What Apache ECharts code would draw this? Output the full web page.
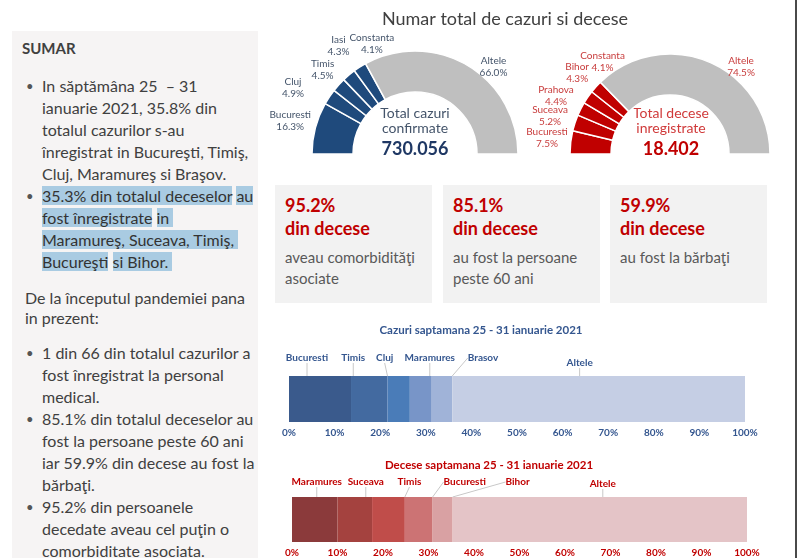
<!DOCTYPE html>
<html>
<head>
<meta charset="utf-8">
<script src="https://cdn.jsdelivr.net/npm/echarts@6/dist/echarts.min.js"></script>
<style>
    html, body { margin: 0; padding: 0; width: 800px; height: 558px; overflow: hidden; background: #fff; }
    body { font-family: Lato, 'Open Sans', sans-serif; color: #404040; }
    #chart { position: absolute; left: 0; top: 0; width: 800px; height: 558px; }
    .panel { position: absolute; left: 12px; top: 31px; width: 246px; height: 540px; background: #f6f4f4; }
    .panel .blk { position: absolute; left: 0; white-space: nowrap; font-size: 16px; }
    .sumar { top: 8px; left: 10px !important; font-size: 15px !important; font-weight: bold; line-height: 18px; }
    .bl { position: relative; padding-left: 30px; line-height: 22px; }
    .bl:before { content: '\2022'; position: absolute; left: 14px; top: 0; font-size: 13px; color: #555; }
    .para { padding-left: 13px; line-height: 20px; }
    .hl { background: #a9cbe2; color: #333; }
    .box { position: absolute; top: 185px; width: 157px; height: 118px; background: #f2f2f2; }
    .box div { position: absolute; left: 10px; white-space: nowrap; }
    .box .v { top: 9px; font-size: 18px; line-height: 22px; font-weight: bold; color: #c00000; }
    .box .d { top: 32px; font-size: 18px; line-height: 22px; font-weight: bold; color: #c00000; }
    .box .t { top: 62px; font-size: 15px; line-height: 21px; color: #595959; }
    .edge { position: absolute; left: 795px; top: 0; width: 2px; height: 558px; background: #4a4a4a; }
</style>
</head>
<body>
<div class="panel">
    <div class="blk sumar">SUMAR</div>
    <div class="blk" style="top:44px">
        <div class="bl">In săptămâna 25&nbsp; – 31<br>ianuarie 2021, 35.8% din<br>totalul cazurilor s-au<br>înregistrat in Bucureşti, Timiş,<br>Cluj, Maramureş si Braşov.</div>
        <div class="bl"><span class="hl">35.3% din totalul deceselor</span> <span class="hl">au</span><br><span class="hl">fost înregistrate</span> <span class="hl">in&nbsp;</span><br><span class="hl">Maramureş, Suceava, Timiş,</span><span class="hl">&nbsp;</span><br><span class="hl">Bucureşti</span> <span class="hl">si Bihor.</span><span class="hl">&nbsp;</span></div>
    </div>
    <div class="blk" style="top:257px">
        <div class="para">De la începutul pandemiei pana<br>in prezent:</div>
    </div>
    <div class="blk" style="top:311px">
        <div class="bl">1 din 66 din totalul cazurilor a<br>fost înregistrat la personal<br>medical.</div>
        <div class="bl">85.1% din totalul deceselor au<br>fost la persoane peste 60 ani<br>iar 59.9% din decese au fost la<br>bărbaţi.</div>
        <div class="bl">95.2% din persoanele<br>decedate aveau cel puţin o<br>comorbiditate asociata.</div>
    </div>
</div>
<div id="boxes"></div>
<div id="chart"></div>
<div class="edge"></div>
<script>
// Numar total de cazuri (pe judete)
var caseRegions = ['Bucuresti', 'Cluj', 'Timis', 'Iasi', 'Constanta', 'Altele'];
var caseShares = [16.3, 4.9, 4.5, 4.3, 4.1, 66.0];
var totalCases = '730.056';

// Numar total de decese (pe judete)
var deathRegions = ['Bucuresti', 'Suceava', 'Prahova', 'Bihor', 'Constanta', 'Altele'];
var deathShares = [7.5, 5.2, 4.4, 4.3, 4.1, 74.5];
var totalDeaths = '18.402';

// Saptamana 25 - 31 ianuarie 2021
var weekCaseRegions = ['Bucuresti', 'Timis', 'Cluj', 'Maramures', 'Brasov', 'Altele'];
var weekCaseShares = [13.6, 8.0, 4.9, 4.8, 4.5, 64.2];
var weekDeathRegions = ['Maramures', 'Suceava', 'Timis', 'Bucuresti', 'Bihor', 'Altele'];
var weekDeathShares = [10.0, 7.6, 7.2, 6.1, 4.4, 64.7];

// Casete cu procente
var statValues = ['95.2%', '85.1%', '59.9%'];
var statLabel = 'din decese';
var statTexts = [['aveau comorbidităţi', 'asociate'], ['au fost la persoane', 'peste 60 ani'], ['au fost la bărbaţi']];

var FONT = 'Lato, "Open Sans", sans-serif';

// casetele
var boxLeft = [275, 443, 610];
var html = '';
for (var i = 0; i < statValues.length; i++) {
    html += '<div class="box" style="left:' + boxLeft[i] + 'px">' +
        '<div class="v">' + statValues[i] + '</div>' +
        '<div class="d">' + statLabel + '</div>' +
        '<div class="t">' + statTexts[i].join('<br>') + '</div></div>';
}
document.getElementById('boxes').innerHTML = html;

// eticheta: [distanta de la arc, deplasare orizontala]
var caseLabelPos = [[27, 1], [16, -23], [23, 1], [38, 14], [28, 27], [-2, 27]];
var deathLabelPos = [[40, 16], [22, -4], [30, 2], [42, 24], [37, 34], [-5, 34]];

// semicerc
function halfDonut(names, shares, color, labelColor, cx, radius, pos) {
    return {
        type: 'pie',
        center: [cx, 154],
        radius: radius,
        startAngle: 180,
        endAngle: 0,
        avoidLabelOverlap: false,
        silent: true,
        animation: false,
        itemStyle: { borderColor: '#fff', borderWidth: 1.5 },
        label: {
            position: 'outside',
            color: labelColor,
            fontSize: 10,
            lineHeight: 12,
            fontFamily: FONT,
            distanceToLabelLine: 0,
            formatter: function (p) {
                return p.name + '\n' + p.value.toFixed(1) + '%';
            },
        },
        labelLine: { show: false, length: 20, length2: 0 },
        labelLayout: { align: 'center', hideOverlap: false },
        data: names.map(function (n, i) {
            var dx = pos[i][1];
            return {
                name: n,
                value: shares[i],
                itemStyle: { color: i === names.length - 1 ? '#bfbfbf' : color },
                labelLine: { length: pos[i][0] },
                label: { padding: [0, Math.max(0, -2 * dx), 0, Math.max(0, 2 * dx)] },
            };
        }),
    };
}

// bara stivuita
function weekBars(names, shares, colors, stack, idx, labelColor, shifts) {
    return names.map(function (n, i) {
        return {
            type: 'bar',
            name: n,
            stack: stack,
            xAxisIndex: idx,
            yAxisIndex: idx,
            barWidth: '100%',
            silent: true,
            animation: false,
            itemStyle: { color: colors[i] },
            label: {
                show: true,
                position: 'top',
                distance: 4,
                formatter: '{a}',
                color: labelColor,
                fontSize: 10,
                fontWeight: 'bold',
                fontFamily: FONT,
            },
            labelLayout: { dx: shifts[i][0], dy: shifts[i][1] },
            labelLine: { show: true, lineStyle: { color: '#c8c8c8', width: 1 } },
            data: [shares[i]],
        };
    });
}

function pctAxis(idx, color) {
    return {
        gridIndex: idx,
        type: 'value',
        min: 0,
        max: 100,
        interval: 10,
        axisLabel: {
            formatter: '{value}%',
            color: color,
            fontSize: 10,
            fontWeight: 'bold',
            fontFamily: FONT,
            margin: 6,
        },
        axisLine: { show: false },
        axisTick: { show: false },
        splitLine: { show: false },
    };
}

var blueCol = '#34568f';
var redCol = '#c00000';
var caseColors = ['#3a5a8c', '#436aa0', '#4a7cb8', '#7895c8', '#a0b3d8', '#c5cee4'];
var deathColors = ['#8b3a3b', '#a4423f', '#c04d4a', '#cc7374', '#d9a1a3', '#e4c4c7'];

var chart = echarts.init(document.getElementById('chart'));
chart.setOption({
    backgroundColor: 'transparent',
    animation: false,
    textStyle: { fontFamily: FONT },
    grid: [
        { left: 289, top: 376, width: 456, height: 46 },
        { left: 292, top: 497, width: 455, height: 46 },
    ],
    xAxis: [pctAxis(0, blueCol), pctAxis(1, redCol)],
    yAxis: [
        { gridIndex: 0, type: 'category', data: ['cazuri'], show: false },
        { gridIndex: 1, type: 'category', data: ['decese'], show: false },
    ],
    graphic: [
        { type: 'text', x: 505, y: 19, style: { text: 'Numar total de cazuri si decese', fill: '#404040', font: '18px ' + FONT, textAlign: 'center', textVerticalAlign: 'middle' } },
        { type: 'text', x: 415, y: 121, style: { text: 'Total cazuri\nconfirmate', fill: '#44546a', font: '14px ' + FONT, lineHeight: 15, textAlign: 'center', textVerticalAlign: 'middle' } },
        { type: 'text', x: 415, y: 149, style: { text: totalCases, fill: '#1f3864', font: 'bold 18px ' + FONT, textAlign: 'center', textVerticalAlign: 'middle' } },
        { type: 'text', x: 671, y: 121, style: { text: 'Total decese\ninregistrate', fill: '#d03a3a', font: '14px ' + FONT, lineHeight: 15, textAlign: 'center', textVerticalAlign: 'middle' } },
        { type: 'text', x: 671, y: 149, style: { text: totalDeaths, fill: '#c00000', font: 'bold 18px ' + FONT, textAlign: 'center', textVerticalAlign: 'middle' } },
        { type: 'text', x: 481, y: 330, style: { text: 'Cazuri saptamana 25 - 31 ianuarie 2021', fill: blueCol, font: 'bold 11.5px ' + FONT, textAlign: 'center', textVerticalAlign: 'middle' } },
        { type: 'text', x: 489, y: 465, style: { text: 'Decese saptamana 25 - 31 ianuarie 2021', fill: redCol, font: 'bold 11.5px ' + FONT, textAlign: 'center', textVerticalAlign: 'middle' } },
    ],
    series: [
        halfDonut(caseRegions, caseShares, '#1f4a7c', '#44546a', 415, [62, 103], caseLabelPos),
        halfDonut(deathRegions, deathShares, '#c00000', '#c83c3c', 670, [59, 100], deathLabelPos),
    ]
        .concat(weekBars(weekCaseRegions, weekCaseShares, caseColors, 'c', 0, blueCol,
            [[-13, -9], [-16, -9], [-14, -9], [9, -9], [41, -9], [-19, -4]]))
        .concat(weekBars(weekDeathRegions, weekDeathShares, deathColors, 'd', 1, redCol,
            [[2, -6], [11, -6], [21, -6], [46, -6], [75, -6], [3, -4]])),
});
</script>
</body>
</html>
